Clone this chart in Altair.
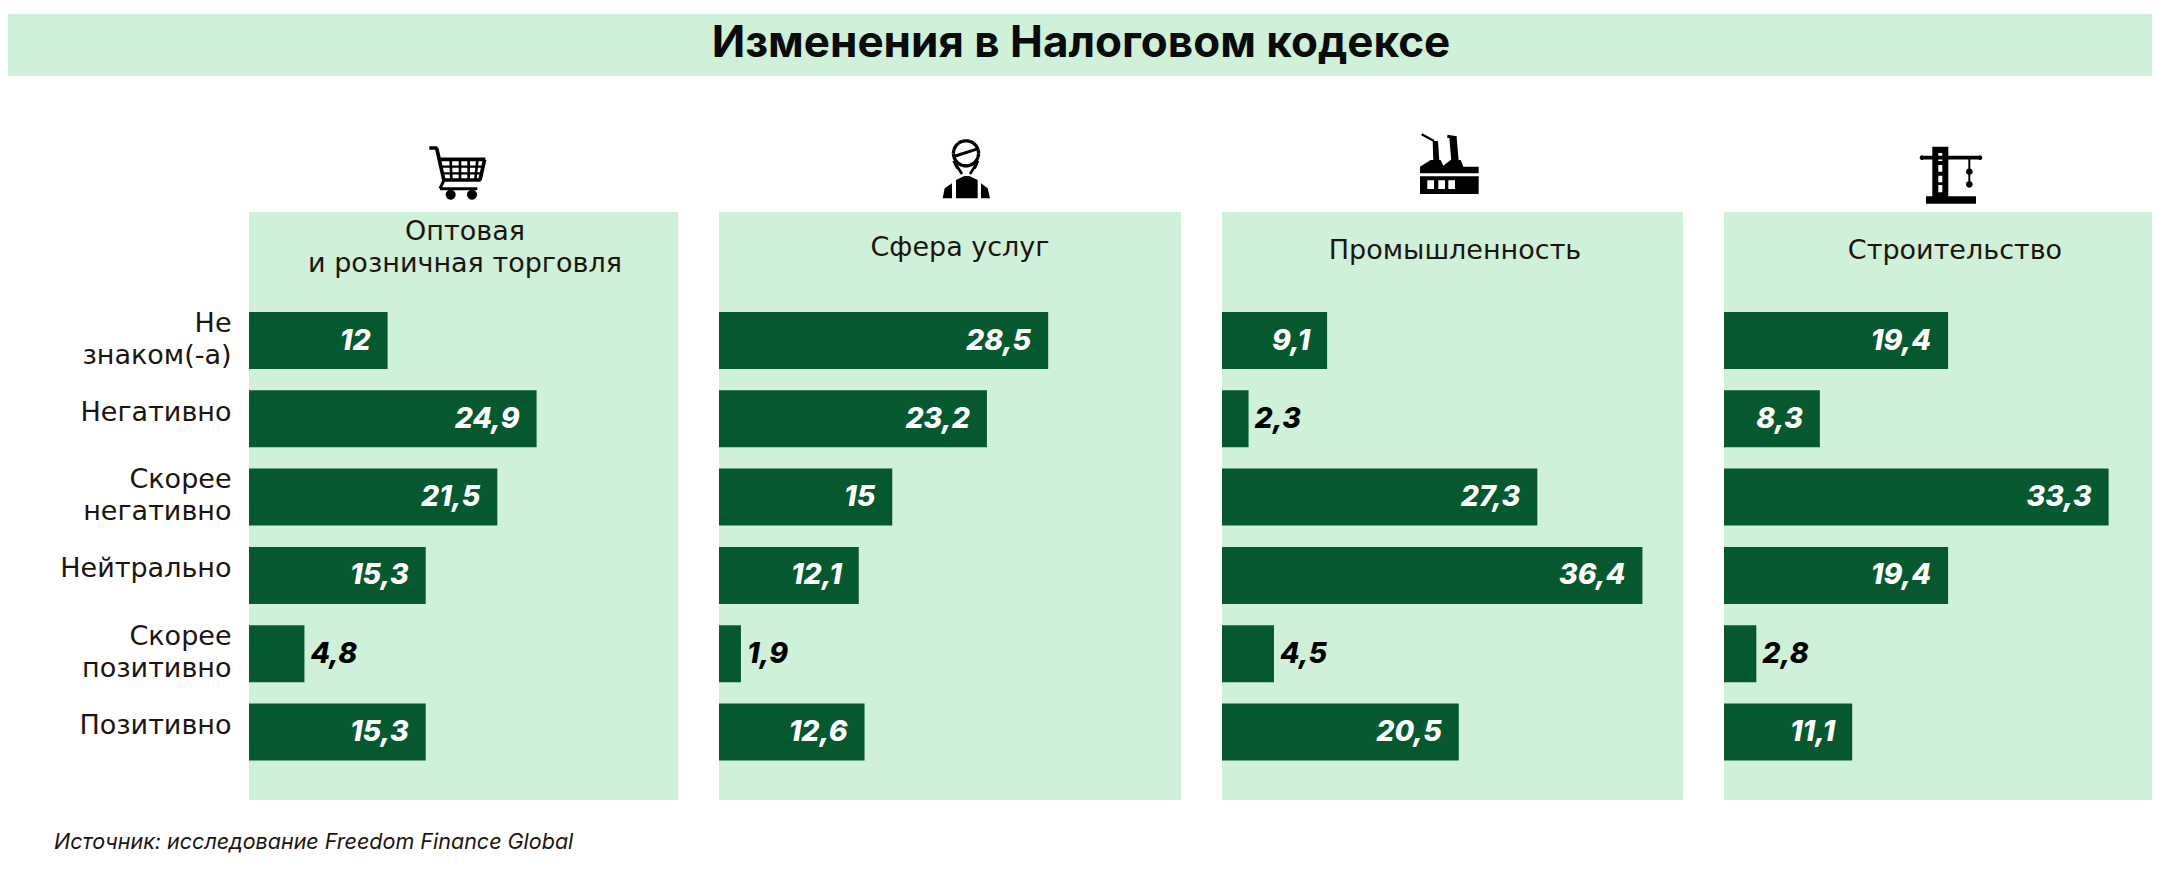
import math
import altair as alt
import pandas as pd

TITLE = "Изменения в Налоговом кодексе"
SOURCE = "Источник: исследование Freedom Finance Global"
CATEGORIES = ["Не знаком(-а)", "Негативно", "Скорее негативно", "Нейтрально", "Скорее позитивно", "Позитивно"]
SECTORS = ["Оптовая\nи розничная торговля", "Сфера услуг", "Промышленность", "Строительство"]
RETAIL = [12, 24.9, 21.5, 15.3, 4.8, 15.3]
SERVICES = [28.5, 23.2, 15, 12.1, 1.9, 12.6]
INDUSTRY = [9.1, 2.3, 27.3, 36.4, 4.5, 20.5]
BUILDING = [19.4, 8.3, 33.3, 19.4, 2.8, 11.1]
SERIES = [RETAIL, SERVICES, INDUSTRY, BUILDING]

BAND = "#cff0d9"
BAR = "#06592f"
INK = "#1c150f"
FONT = "Inter"
WIDE_FONT = "DejaVu Sans"
PX_PER_UNIT = 11.55
THRESHOLD = 5
AXIS_W = 241


# --- icon drawing helpers: shapes are described in a 240x240 box -------------
def _oriented(pts):
    area = sum(pts[i][0] * pts[(i + 1) % len(pts)][1] - pts[(i + 1) % len(pts)][0] * pts[i][1] for i in range(len(pts)))
    return pts if area > 0 else list(reversed(pts))


def poly(*pts):
    return list(pts)


def rect(x1, y1, x2, y2):
    return [(x1, y1), (x2, y1), (x2, y2), (x1, y2)]


def line(x1, y1, x2, y2, w):
    d = math.hypot(x2 - x1, y2 - y1) or 1
    nx, ny = -(y2 - y1) / d * w / 2, (x2 - x1) / d * w / 2
    return [(x1 + nx, y1 + ny), (x2 + nx, y2 + ny), (x2 - nx, y2 - ny), (x1 - nx, y1 - ny)]


def disc(cx, cy, r):
    return [(cx + r * math.cos(i * math.pi / 10), cy + r * math.sin(i * math.pi / 10)) for i in range(20)]


def ring(cx, cy, r, w):
    out = []
    for i in range(20):
        a, b = i * math.pi / 10, (i + 1) * math.pi / 10
        out.append(line(cx + r * math.cos(a), cy + r * math.sin(a), cx + r * math.cos(b), cy + r * math.sin(b), w))
    return out


def to_path(shapes):
    parts = []
    for s in shapes:
        s = _oriented(s)
        parts.append("M" + "L".join(f"{(x - 120) / 120:.3f},{(y - 120) / 120:.3f}" for x, y in s) + "Z")
    return "".join(parts)


CART = to_path([
    line(28, 54, 52, 54, 11), line(50, 54, 72, 152, 11), line(72, 150, 60, 176, 9), line(60, 176, 172, 176, 9),
    line(62, 88, 196, 88, 11), line(194, 88, 180, 150, 11), line(72, 150, 182, 150, 11),
    line(92, 90, 94, 150, 8), line(120, 90, 120, 150, 8), line(146, 90, 146, 150, 8), line(172, 90, 166, 150, 8),
    line(64, 110, 190, 110, 7), line(68, 130, 186, 130, 7),
    disc(92, 194, 15), disc(156, 194, 15),
])
PERSON = to_path(
    ring(120, 70, 38, 10) + [
        line(88, 78, 150, 58, 9), line(84, 92, 95, 115, 10), line(155, 92, 145, 115, 10),
        line(95, 112, 108, 132, 8), line(145, 112, 132, 132, 8),
        poly((50, 205), (56, 175), (78, 160), (78, 205)),
        poly((90, 205), (90, 150), (115, 138), (130, 138), (155, 150), (155, 205)),
        poly((165, 205), (165, 160), (185, 175), (192, 205)),
    ]
)
FACTORY = to_path([
    line(35, 28, 72, 48, 7), line(112, 34, 140, 38, 9),
    poly((68, 48), (84, 48), (88, 108), (70, 108)),
    poly((118, 38), (140, 38), (146, 108), (124, 108)),
    poly((30, 145), (30, 125), (62, 105), (92, 105), (100, 122), (122, 105), (152, 105), (160, 125), (206, 125), (206, 145)),
    rect(30, 154, 206, 166), rect(30, 166, 52, 192), rect(72, 166, 85, 192), rect(105, 166, 115, 192),
    rect(135, 166, 206, 192), rect(30, 192, 206, 207),
])
CRANE = to_path([
    rect(64, 35, 82, 185), rect(94, 35, 112, 185), rect(64, 35, 112, 54), rect(64, 78, 112, 90),
    rect(64, 110, 112, 122), rect(64, 142, 112, 150), rect(64, 172, 112, 185),
    line(30, 68, 210, 68, 11), line(175, 70, 175, 150, 6), disc(175, 110, 10), disc(175, 148, 10),
    disc(33, 68, 7), disc(207, 68, 7), rect(45, 184, 195, 206),
])
ICONS = [CART, PERSON, FACTORY, CRANE]

# panel geometry in the page: width, title x, title y, icon x, icon y
PLOT_H = 724
PANEL_W = [429, 462, 461, 428]
TITLE_X = [216, 241, 233, 231]
TITLE_Y = [156, 172, 175, 175]
ICON_X = [211, 247, 228, 227]
ICON_Y = [94, 94, 89, 99]
ROW_W = sum(PANEL_W) + 3 * 41


def panel(i):
    w = PANEL_W[i]
    df = pd.DataFrame({"cat": CATEGORIES, "value": SERIES[i]})
    y_axis = None
    if i == 0:
        y_axis = alt.Axis(
            title=None, domain=False, ticks=False, labelPadding=18, minExtent=AXIS_W, maxExtent=AXIS_W,
            labelFont=WIDE_FONT, labelFontSize=27, labelColor=INK, labelLineHeight=32,
            labelAlign="right", labelLimit=240,
            labelOffset={"condition": {"test": "indexof(datum.label, ' ') > 0", "value": -17}, "value": -6},
            labelExpr="indexof(datum.label, ' ') > 0 ? split(datum.label, ' ') : datum.label",
        )
    y = alt.Y("cat:N", sort=CATEGORIES, axis=y_axis,
              scale=alt.Scale(domain=CATEGORIES, range=[236, 684.5], paddingInner=0.272, paddingOuter=0))
    x = alt.X("value:Q", axis=None, scale=alt.Scale(domain=[0, w / PX_PER_UNIT], nice=False, zero=True))

    bg = alt.Chart(alt.Data(values=[{"p": i}])).mark_rect(color=BAND).encode(
        x=alt.value(0), x2=alt.value(w), y=alt.value(136), y2=alt.value(PLOT_H))
    bars = alt.Chart(df).mark_bar(color=BAR, cornerRadius=0).encode(x=x, y=y)
    base = alt.Chart(df).transform_calculate(label="replace(toString(datum.value), '.', ',')")
    inside = base.transform_filter(f"datum.value >= {THRESHOLD}").mark_text(
        align="right", baseline="middle", dx=-17, font=FONT, fontSize=28.5, fontWeight=800, fontStyle="italic",
        color="white").encode(x=x, y=y, text="label:N")
    outside = base.transform_filter(f"datum.value < {THRESHOLD}").mark_text(
        align="left", baseline="middle", dx=6, font=FONT, fontSize=28.5, fontWeight=800, fontStyle="italic",
        color="black").encode(x=x, y=y, text="label:N")
    head = alt.Chart(alt.Data(values=[{"t": SECTORS[i].split("\n")}])).mark_text(
        align="center", baseline="middle", font=WIDE_FONT, fontSize=27, color=INK, lineHeight=32).encode(
        x=alt.value(TITLE_X[i]), y=alt.value(TITLE_Y[i]), text="t:N")
    icon = alt.Chart(alt.Data(values=[{"p": i}])).mark_point(
        shape=ICONS[i], filled=True, size=6400, color="#000000", opacity=1).encode(
        x=alt.value(ICON_X[i]), y=alt.value(ICON_Y[i]))
    return alt.layer(bg, bars, inside, outside, head, icon).properties(width=w, height=PLOT_H)


header_bg = alt.Chart(alt.Data(values=[{"h": 1}])).mark_rect(color=BAND, clip=False).encode(
    x=alt.value(-AXIS_W), x2=alt.value(ROW_W), y=alt.value(6), y2=alt.value(68))
header_text = alt.Chart(alt.Data(values=[{"t": TITLE}])).mark_text(
    align="center", baseline="middle", font=FONT, fontSize=44, fontWeight="bold", color="#0a0a0a").encode(
    x=alt.value(1073 - AXIS_W), y=alt.value(36), text="t:N")
header = alt.layer(header_bg, header_text).properties(width=ROW_W, height=68)

footer = alt.Chart(alt.Data(values=[{"t": SOURCE}])).mark_text(
    align="left", baseline="middle", font=FONT, fontSize=21.5, fontStyle="italic", color=INK).encode(
    x=alt.value(46 - AXIS_W), y=alt.value(43), text="t:N").properties(width=ROW_W, height=60)

row = alt.hconcat(*[panel(i) for i in range(4)], spacing=41)
chart = alt.vconcat(header, row, footer, spacing=0).properties(padding=0).configure_view(stroke=None)
chart.save("out.html", embed_options={"renderer": "svg", "actions": False})
